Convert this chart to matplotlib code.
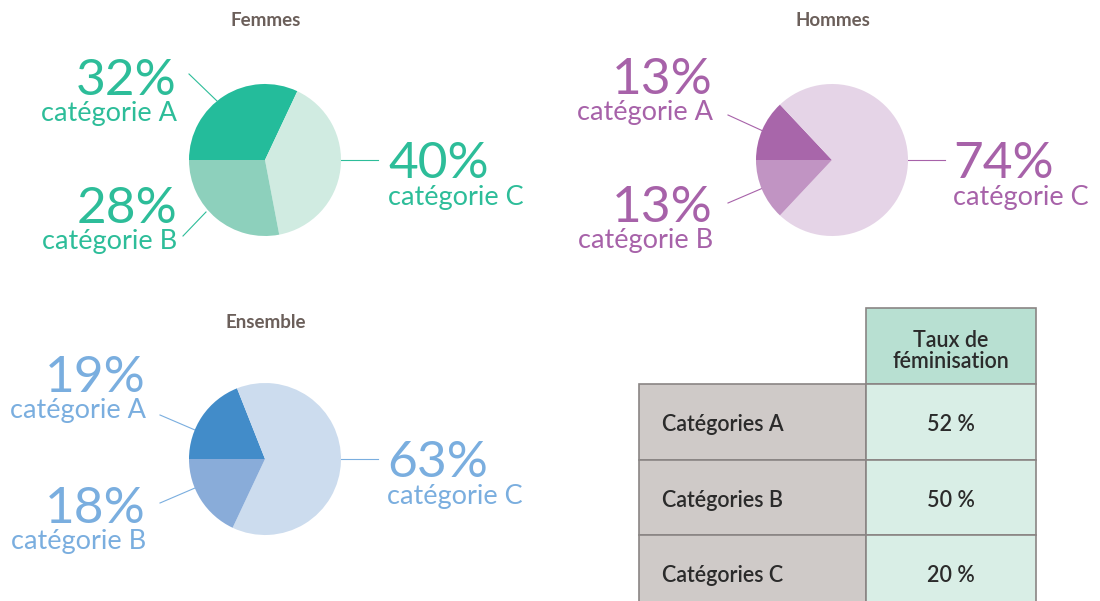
import matplotlib
matplotlib.use("Agg")
import matplotlib.pyplot as plt
from matplotlib.patches import Rectangle

# ---------------- data ----------------
categories = ["A", "B", "C"]
femmes = [32, 28, 40]
hommes = [13, 13, 74]
ensemble = [19, 18, 63]
pie_titles = ["Femmes", "Hommes", "Ensemble"]
table_header = "Taux de\nféminisation"
table_rows = ["Catégories A", "Catégories B", "Catégories C"]
taux_feminisation = [52, 50, 20]

W, H = 1100, 601
fig = plt.figure(figsize=(W / 100, H / 100), dpi=100)
fig.patch.set_facecolor("white")
base = fig.add_axes([0, 0, 1, 1])
base.set_xlim(0, W)
base.set_ylim(H, 0)
base.axis("off")

FONT = "Lato"
TITLE_COLOR = "#6b5f5a"

pies = [
    dict(values=femmes, title=pie_titles[0], cx=265, cy=160, r=76,
         colors=["#24bc9b", "#8dd0bc", "#d0ebe1"], txt="#2dbd99",
         left_x=177, a_lines=((189, 74), (217, 101)), b_lines=((183, 236), (206, 212)),
         a_base=95, b_base=223, c_x=388, c_base=178, title_y=21),
    dict(values=hommes, title=pie_titles[1], cx=832, cy=160, r=76,
         colors=["#a866aa", "#c194c3", "#e5d4e7"], txt="#a762a9",
         left_x=713, a_lines=((728, 115), (763, 131)), b_lines=((728, 203), (763, 188)),
         a_base=94, b_base=222, c_x=953, c_base=178, title_y=21),
    dict(values=ensemble, title=pie_titles[2], cx=265, cy=459, r=76,
         colors=["#428cc9", "#89acd9", "#ccdcee"], txt="#7aaedf",
         left_x=146, a_lines=((160, 415), (195, 430)), b_lines=((160, 503), (195, 488)),
         a_base=392, b_base=523, c_x=387, c_base=477, title_y=322),
]

for p in pies:
    cx, cy, r = p["cx"], p["cy"], p["r"]
    ax = fig.add_axes([(cx - r) / W, 1 - (cy + r) / H, 2 * r / W, 2 * r / H])
    vals = p["values"]
    cols = p["colors"]
    # order A, C, B clockwise starting at 9 o'clock
    ax.pie([vals[0], vals[2], vals[1]], colors=[cols[0], cols[2], cols[1]],
           startangle=180, counterclock=False, radius=1,
           wedgeprops=dict(linewidth=0))
    ax.set_xlim(-1, 1)
    ax.set_ylim(-1, 1)
    ax.axis("off")

    base.text(cx + 1, p["title_y"], p["title"], ha="center", va="center",
              fontsize=13.5, fontweight="bold", color=TITLE_COLOR, family=FONT)

    c = p["txt"]
    # leader lines
    for (x0, y0), (x1, y1) in (p["a_lines"], p["b_lines"]):
        base.plot([x0, x1], [y0, y1], color=c, lw=0.8)
    base.plot([cx + r, cx + r + 37], [cy, cy], color=c, lw=0.8)

    # labels A and B (left)
    for val, cat, yb in ((vals[0], categories[0], p["a_base"]),
                         (vals[1], categories[1], p["b_base"])):
        base.text(p["left_x"], yb, f"{val}%", ha="right", va="baseline",
                  fontsize=37, color=c, family=FONT, fontweight="normal")
        base.text(p["left_x"], yb + 26, f"catégorie {cat}", ha="right", va="baseline",
                  fontsize=19.5, color=c, family=FONT, fontweight="normal")
    # label C (right)
    base.text(p["c_x"], p["c_base"], f"{vals[2]}%", ha="left", va="baseline",
              fontsize=37, color=c, family=FONT, fontweight="normal")
    base.text(p["c_x"], p["c_base"] + 27, f"catégorie {categories[2]}", ha="left",
              va="baseline", fontsize=19.5, color=c, family=FONT, fontweight="normal")

# ---------------- table ----------------
edge = "#8a8584"
x0, x1, x2 = 639, 866, 1036
y_head, y_rows = 308, 384
row_h = 75.5
TFS = 15.5
base.add_patch(Rectangle((x1, y_head), x2 - x1, y_rows - y_head,
                         facecolor="#b8e0d2", edgecolor=edge, lw=1.2))
base.text((x1 + x2) / 2, (y_head + y_rows) / 2 + 5, table_header, ha="center",
          va="center", fontsize=TFS, color="#2b2b2b", family=FONT,
          fontweight="semibold", linespacing=1.05)
for i, (lab, val) in enumerate(zip(table_rows, taux_feminisation)):
    yt = y_rows + i * row_h
    base.add_patch(Rectangle((x0, yt), x1 - x0, row_h, facecolor="#cfcac8",
                             edgecolor=edge, lw=1.2))
    base.add_patch(Rectangle((x1, yt), x2 - x1, row_h, facecolor="#d9eee6",
                             edgecolor=edge, lw=1.2))
    base.text(662, yt + row_h / 2 + 3, lab, ha="left", va="center", fontsize=TFS,
              color="#2b2b2b", family=FONT, fontweight="semibold")
    base.text((x1 + x2) / 2, yt + row_h / 2 + 3, f"{val}\u202f%", ha="center",
              va="center", fontsize=TFS, color="#2b2b2b", family=FONT,
              fontweight="semibold")

fig.savefig("out.png", dpi=100, facecolor="white")
